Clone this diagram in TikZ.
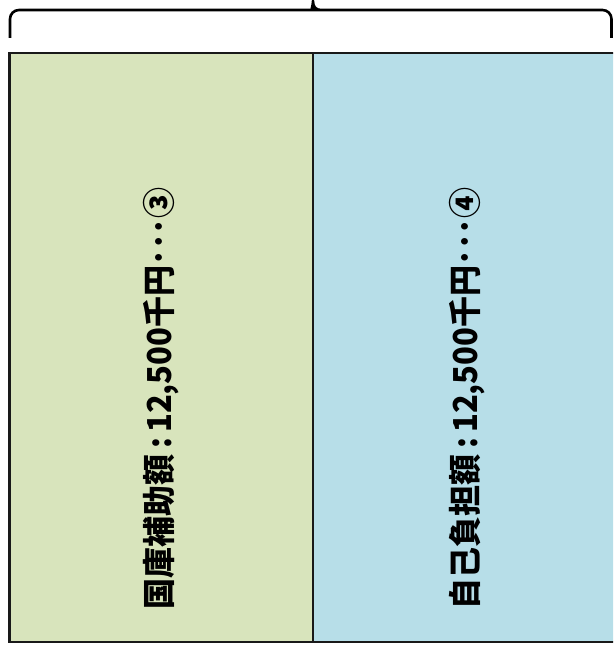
\documentclass[tikz,border=0pt]{standalone}
\usepackage{fontspec}
\setmainfont{Noto Sans CJK JP}
\usetikzlibrary{positioning}
\definecolor{subsidygreen}{HTML}{D8E4BC}
\definecolor{selfblue}{HTML}{B7DEE8}

\begin{document}
\begin{tikzpicture}[x=1pt, y=1pt,
part/.style={rectangle, draw=black!90, line width=2.4pt, minimum width=303.5pt, minimum height=589pt, inner sep=0pt, outer sep=0pt},
amount/.style={rotate=90, font=\fontsize{33}{33}\selectfont\bfseries, inner sep=0pt},
bracket/.style={draw=black, line width=2.6pt},
]
\useasboundingbox (0,0) rectangle (613,652);
\clip (0,0) rectangle (613,652);

% \node[type](name_of_node)[right=of name_of_node]{text_in_node}
\node[part, fill=subsidygreen](subsidy) at (161.25,304.5){};
\node[part, fill=selfblue](selfpay)[right=0pt of subsidy]{};

\node[amount](subsidytext) at ([yshift=-51pt]subsidy.center){\resizebox{421pt}{\height}{国庫補助額\,:\,12,500千円･･･③}};
\node[amount](selfpaytext) at ([xshift=2pt, yshift=-51pt]selfpay.center){\resizebox{421pt}{\height}{自己負担額\,:\,12,500千円･･･④}};

% brace over both parts
\coordinate (braceleft) at (10,614);
\coordinate (braceright) at (611.5,614);
\draw[bracket] (braceleft) [rounded corners=9pt] -- (10,642) -- (305,642) [sharp corners] .. controls (310,642) and (313,645) .. (313,650.5) .. controls (313,645) and (316,642) .. (321,642) [rounded corners=9pt] -- (611.5,642) -- (braceright);

\end{tikzpicture}
\end{document}
